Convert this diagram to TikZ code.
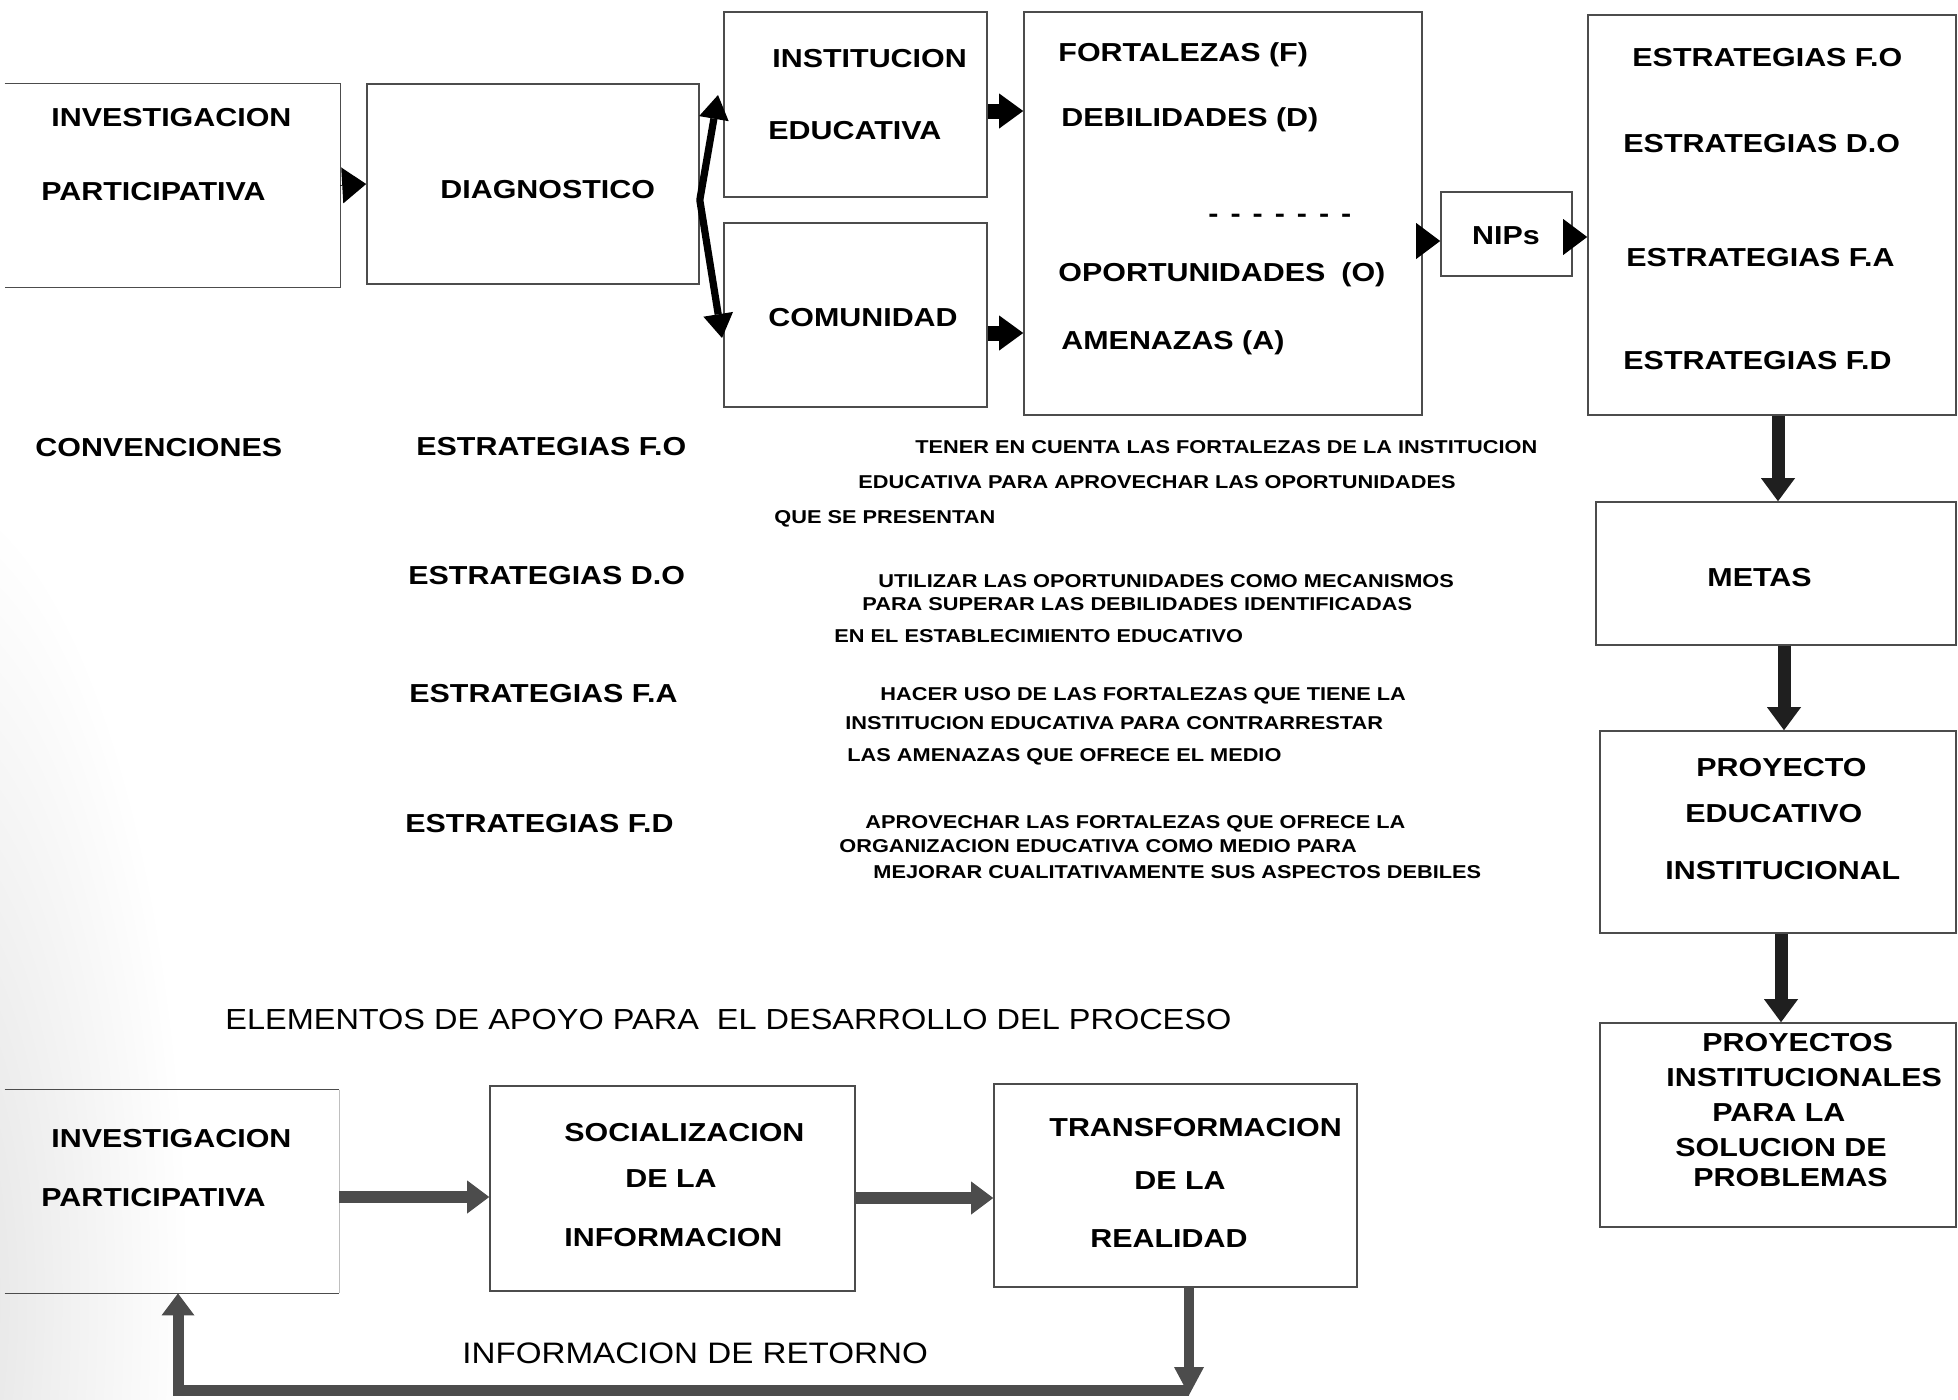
\documentclass[tikz,border=0pt]{standalone}
\usepackage{fontspec}
\setmainfont{Liberation Sans}[FakeStretch=1.17]
\newfontfamily\hdfont{Liberation Sans}[FakeStretch=1.12]
\usetikzlibrary{arrows.meta}

\tikzset{
  box/.style={draw=black!70, line width=0.8pt, inner sep=0pt},
  openbox/.style={inner sep=0pt},
  boxline/.style={draw=black!70, line width=0.8pt},
  bigt/.style={font=\fontsize{13pt}{15pt}\selectfont\bfseries, inner sep=0pt,
    text height=9.3pt, text depth=0pt, anchor=west},
  smallt/.style={font=\fontsize{9.3pt}{11pt}\selectfont\bfseries, inner sep=0pt,
    text height=6.6pt, text depth=0pt, anchor=west},
  headt/.style={font=\hdfont\fontsize{14.5pt}{17pt}\selectfont, inner sep=0pt,
    text height=10.4pt, text depth=0pt, anchor=west},
  headonly/.style={line width=0.3pt,
    -{Triangle[length=12pt,width=18pt,line width=0pt]}},
  stub/.style={line width=7.5pt,
    -{Triangle[length=12pt,width=17.5pt,line width=0pt]}},
  twoway/.style={line width=3.6pt, line join=round,
    {Triangle[length=12pt,width=15pt,line width=0pt]}-{Triangle[length=12pt,width=15pt,line width=0pt]}},
  downarr/.style={line width=6.5pt, draw=black!88,
    -{Triangle[length=11.5pt,width=17pt,line width=0pt]}},
  grayarr/.style={line width=6pt, draw=black!70,
    -{Triangle[length=11pt,width=16.5pt,line width=0pt]}},
}

\begin{document}
\begin{tikzpicture}[x=0.5pt, y=-0.5pt]
\useasboundingbox (0,0) rectangle (1958,1399);
\fill[white] (0,0) rectangle (1958,1399);

% soft grey shadow along the lower left edge of the sheet
\shade[inner color=black!12, outer color=white] (-80,1300) ellipse [x radius=270, y radius=820];

% ---------- helper lines for connector heights / columns
\coordinate (yIE) at (0,111);
\coordinate (yCO) at (0,333);
\coordinate (yNa) at (0,241);
\coordinate (yNb) at (0,237);
\coordinate (yBend) at (0,200);
\coordinate (ySa) at (0,1197);
\coordinate (ySb) at (0,1198);
\coordinate (xE) at (1778,0);
\coordinate (xM) at (1784,0);
\coordinate (xP) at (1781,0);
\coordinate (xT) at (1189,0);
\coordinate (xR) at (178,0);
\coordinate (dtop) at (718,95);
\coordinate (dbot) at (722,338);
\coordinate (rb) at (1189,1390);

% ---------- top row boxes
\node[openbox, minimum width=167.5pt, minimum height=101.5pt] (ip1) at (172.5,185.5) {};
\draw[boxline] (ip1.north west) -- (ip1.north east) -- (ip1.south east) -- (ip1.south west);
\node[box, minimum width=166pt, minimum height=100pt] (diag) at (533,184) {};
\node[box, minimum width=131.5pt, minimum height=92.5pt] (inst) at (855.5,104.5) {};
\node[box, minimum width=131.5pt, minimum height=92pt] (com) at (855.5,315) {};
\node[box, minimum width=199pt, minimum height=201.5pt] (foda) at (1223,213.5) {};
\node[box, minimum width=65.5pt, minimum height=42pt] (nips) at (1506.5,234) {};
\node[box, minimum width=184pt, minimum height=200pt] (estr) at (1772,215) {};

% ---------- right column
\node[box, minimum width=180pt, minimum height=71.5pt] (metas) at (1776,573.5) {};
\node[box, minimum width=178pt, minimum height=101pt] (pei) at (1778,832) {};
\node[box, minimum width=178pt, minimum height=102pt] (proys) at (1778,1125) {};

% ---------- bottom row
\node[openbox, minimum width=167pt, minimum height=101.5pt] (ip2) at (172,1191.5) {};
\draw[boxline] (ip2.north west) -- (ip2.north east);
\draw[boxline] (ip2.south west) -- (ip2.south east);
\draw[boxline, draw=black!25, line width=0.6pt] (ip2.north east) -- (ip2.south east);
\node[box, minimum width=182.5pt, minimum height=102.5pt] (soc) at (672.5,1188.5) {};
\node[box, minimum width=181.5pt, minimum height=101.5pt] (trans) at (1175.5,1185.5) {};

% ---------- box texts, top row
\node[bigt] (tip1a) at (51,117) {INVESTIGACION};
\node[bigt] (tip1b) at (41,191) {PARTICIPATIVA};
\node[bigt] (tdiag) at (440,189) {DIAGNOSTICO};
\node[bigt] (tinst) at (772,58) {INSTITUCION};
\node[bigt] (tedu) at (768,130) {EDUCATIVA};
\node[bigt] (tcom) at (768,317) {COMUNIDAD};
\node[bigt] (tf) at (1058,52) {FORTALEZAS (F)};
\node[bigt] (td) at (1061,117) {DEBILIDADES (D)};
\node[bigt] (tdash) at (1208,213) {-\hspace{6pt}-\hspace{6pt}-\hspace{6pt}-\hspace{6pt}-\hspace{6pt}-\hspace{6pt}-};
\node[bigt] (to) at (1058,272) {OPORTUNIDADES\hspace{8pt}(O)};
\node[bigt] (ta) at (1061,340) {AMENAZAS (A)};
\node[bigt, anchor=center] (tnips) at (1506,235) {NIPs};
\node[bigt] (tefo) at (1632,57) {ESTRATEGIAS F.O};
\node[bigt] (tedo) at (1623,143) {ESTRATEGIAS D.O};
\node[bigt] (tefa) at (1626,257) {ESTRATEGIAS F.A};
\node[bigt] (tefd) at (1623,360) {ESTRATEGIAS F.D};

% ---------- right column texts
\node[bigt] (tmetas) at (1707,577) {METAS};
\node[bigt] (tpei1) at (1696,767) {PROYECTO};
\node[bigt] (tpei2) at (1685,813) {EDUCATIVO};
\node[bigt] (tpei3) at (1665,870) {INSTITUCIONAL};
\node[bigt] (tpr1) at (1702,1042) {PROYECTOS};
\node[bigt] (tpr2) at (1666,1077) {INSTITUCIONALES};
\node[bigt] (tpr3) at (1712,1112) {PARA LA};
\node[bigt] (tpr4) at (1675,1147) {SOLUCION DE};
\node[bigt] (tpr5) at (1693,1177) {PROBLEMAS};

% ---------- conventions
\node[bigt] (tconv) at (35,447) {CONVENCIONES};
\node[bigt] (cfo) at (416,446) {ESTRATEGIAS F.O};
\node[bigt] (cdo) at (408,575) {ESTRATEGIAS D.O};
\node[bigt] (cfa) at (409,693) {ESTRATEGIAS F.A};
\node[bigt] (cfd) at (405,823) {ESTRATEGIAS F.D};

\node[smallt] (dfo1) at (915,447) {TENER EN CUENTA LAS FORTALEZAS DE LA INSTITUCION};
\node[smallt] (dfo2) at (858,482) {EDUCATIVA PARA APROVECHAR LAS OPORTUNIDADES};
\node[smallt] (dfo3) at (774,517) {QUE SE PRESENTAN};
\node[smallt] (ddo1) at (878,581) {UTILIZAR LAS OPORTUNIDADES COMO MECANISMOS};
\node[smallt] (ddo2) at (862,604) {PARA SUPERAR LAS DEBILIDADES IDENTIFICADAS};
\node[smallt] (ddo3) at (834,636) {EN EL ESTABLECIMIENTO EDUCATIVO};
\node[smallt] (dfa1) at (880,694) {HACER USO DE LAS FORTALEZAS QUE TIENE LA};
\node[smallt] (dfa2) at (845,723) {INSTITUCION EDUCATIVA PARA CONTRARRESTAR};
\node[smallt] (dfa3) at (847,755) {LAS AMENAZAS QUE OFRECE EL MEDIO};
\node[smallt] (dfd1) at (865,822) {APROVECHAR LAS FORTALEZAS QUE OFRECE LA};
\node[smallt] (dfd2) at (839,846) {ORGANIZACION EDUCATIVA COMO MEDIO PARA};
\node[smallt] (dfd3) at (873,872) {MEJORAR CUALITATIVAMENTE SUS ASPECTOS DEBILES};

% ---------- bottom section texts
\node[headt] (thead) at (225,1019) {ELEMENTOS DE APOYO PARA \ EL DESARROLLO DEL PROCESO};
\node[bigt] (tip2a) at (51,1138) {INVESTIGACION};
\node[bigt] (tip2b) at (41,1197) {PARTICIPATIVA};
\node[bigt] (tsoc1) at (564,1132) {SOCIALIZACION};
\node[bigt] (tsoc2) at (625,1178) {DE LA};
\node[bigt] (tsoc3) at (564,1237) {INFORMACION};
\node[bigt] (ttr1) at (1049,1127) {TRANSFORMACION};
\node[bigt] (ttr2) at (1134,1180) {DE LA};
\node[bigt] (ttr3) at (1090,1238) {REALIDAD};
\node[headt, font=\hdfont\fontsize{14.8pt}{17pt}\selectfont] (tret) at (462,1353) {INFORMACION DE RETORNO};

% ---------- connectors, top row
\draw[headonly] (ip1.east) -- (diag.west);
\draw[twoway] (dtop) -- (diag.east |- yBend) -- (dbot);
\draw[stub] (inst.east |- yIE) -- (foda.west |- yIE);
\draw[stub] (com.east |- yCO) -- (foda.west |- yCO);
\draw[headonly] (foda.east |- yNa) -- (nips.west |- yNa);
\draw[headonly] ([xshift=-3pt]nips.east |- yNb) -- (estr.west |- yNb);

% ---------- connectors, right column
\draw[downarr] (estr.south -| xE) -- (metas.north -| xE);
\draw[downarr] (metas.south -| xM) -- (pei.north -| xM);
\draw[downarr] (pei.south -| xP) -- (proys.north -| xP);

% ---------- connectors, bottom row
\draw[grayarr] (ip2.east |- ySa) -- (soc.west |- ySa);
\draw[grayarr] (soc.east |- ySb) -- (trans.west |- ySb);
\draw[grayarr, line width=5.5pt] (rb) -| (ip2.south -| xR);
\draw[grayarr, line width=5pt, -{Triangle[length=14pt,width=15pt,line width=0pt]}]
  (trans.south -| xT) -- ([yshift=-2.5pt]rb);
\end{tikzpicture}
\end{document}
